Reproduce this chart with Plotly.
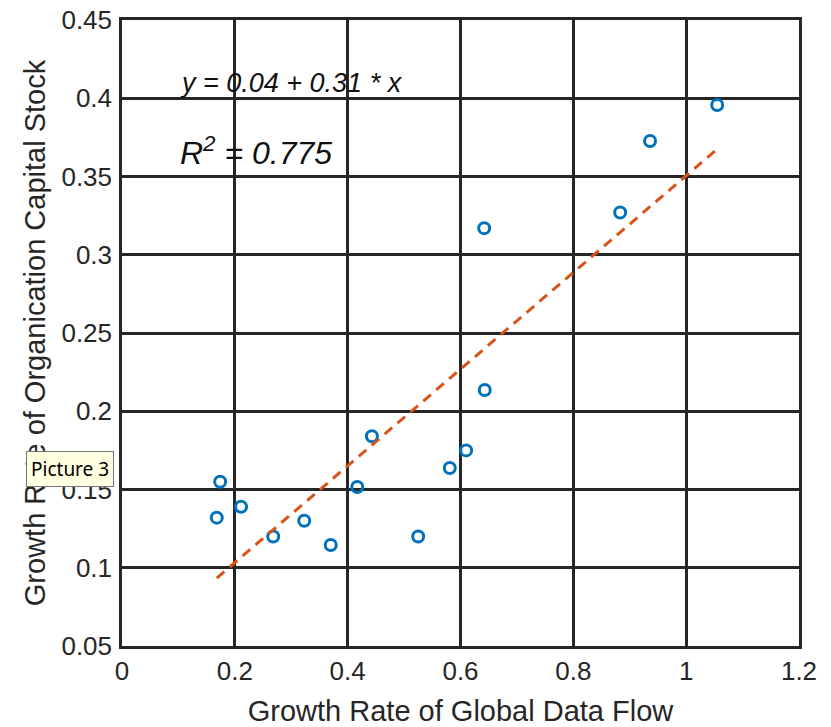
import numpy as np
import plotly.graph_objects as go

# Data
data_flow_growth = [0.168, 0.174, 0.211, 0.268, 0.323, 0.370, 0.417, 0.443,
                    0.525, 0.581, 0.610, 0.643, 0.642, 0.883, 0.936, 1.055]
org_capital_growth = [0.132, 0.155, 0.139, 0.120, 0.130, 0.1145, 0.1516, 0.184,
                      0.120, 0.1637, 0.175, 0.2136, 0.317, 0.327, 0.3727, 0.3957]
fit_intercept = 0.0415
fit_slope = 0.309
x_ticks = [0, 0.2, 0.4, 0.6, 0.8, 1, 1.2]
x_tick_labels = ["0", "0.2", "0.4", "0.6", "0.8", "1", "1.2"]
y_ticks = [0.05, 0.1, 0.15, 0.2, 0.25, 0.3, 0.35, 0.4, 0.45]
y_tick_labels = ["0.05", "0.1", "0.15", "0.2", "0.25", "0.3", "0.35", "0.4", "0.45"]

fit_x = [min(data_flow_growth), max(data_flow_growth)]
fit_y = [fit_intercept + fit_slope * v for v in fit_x]

FONT = "Liberation Sans, Arial, sans-serif"
TXT = "#262626"

fig = go.Figure()
fig.add_trace(go.Scatter(
    x=data_flow_growth, y=org_capital_growth, mode="markers",
    marker=dict(symbol="circle-open", size=11, color="#0072BD",
                line=dict(width=3, color="#0072BD")),
    showlegend=False, cliponaxis=False))
fig.add_trace(go.Scatter(
    x=fit_x, y=fit_y, mode="lines",
    line=dict(color="#D95319", width=3, dash="10px,7px"),
    showlegend=False))

axis_common = dict(
    showgrid=True, gridcolor="#262626", gridwidth=2.5,
    showline=True, linecolor="#262626", linewidth=2.5, mirror=True,
    zeroline=False, ticks="", automargin=False,
    tickfont=dict(family=FONT, size=26, color=TXT),
)
fig.update_xaxes(range=[0, 1.2], tickvals=x_ticks, ticktext=x_tick_labels,
                 ticklabelstandoff=0,
                 title=dict(text="Growth Rate of Global Data Flow",
                            font=dict(family=FONT, size=29, color=TXT), standoff=17),
                 **axis_common)
fig.update_yaxes(range=[0.05, 0.45], tickvals=y_ticks, ticktext=y_tick_labels,
                 ticklabelstandoff=2,
                 title=dict(text="Growth Rate of Organication Capital Stock",
                            font=dict(family=FONT, size=29, color=TXT), standoff=8),
                 **axis_common)

fig.add_annotation(x=0.1, y=0.410, xref="x", yref="y", xanchor="left", yanchor="middle",
                   text="<i>y = 0.04 + 0.31 * x</i>", showarrow=False,
                   font=dict(family=FONT, size=27, color="#111111"))
fig.add_annotation(x=0.1, y=0.366, xref="x", yref="y", xanchor="left", yanchor="middle",
                   text="<i>R<sup>2</sup> = 0.775</i>", showarrow=False,
                   font=dict(family=FONT, size=32, color="#111111"))
fig.add_annotation(x=-0.0768, y=0.2827, xref="paper", yref="paper",
                   xanchor="center", yanchor="middle",
                   text="Picture 3", showarrow=False,
                   bgcolor="#FFFFE1", bordercolor="#767676", borderwidth=1, borderpad=4,
                   font=dict(family="Noto Sans, DejaVu Sans, sans-serif", size=19, color="#000000"))

fig.update_layout(
    width=831, height=727,
    margin=dict(l=122, r=32, t=20, b=81),
    plot_bgcolor="white", paper_bgcolor="white",
)
fig.write_html("out.html", config={"displayModeBar": False},
               post_script="document.body.style.margin='0';document.body.style.overflow='hidden';")
